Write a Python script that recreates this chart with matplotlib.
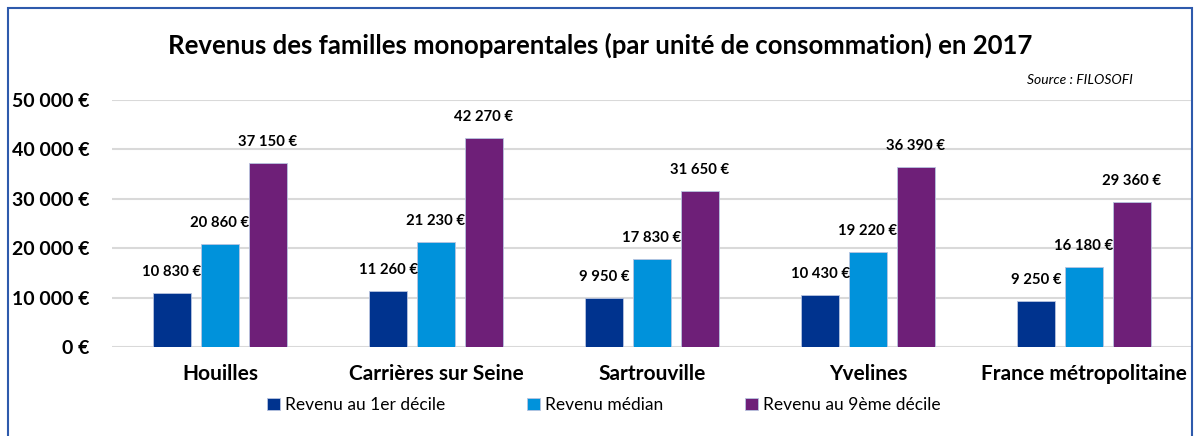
import matplotlib.pyplot as plt
from matplotlib.patches import Rectangle
import numpy as np

plt.rcParams['font.family'] = ['Lato', 'DejaVu Sans']

# Data
categories = ['Houilles', 'Carrières sur Seine', 'Sartrouville', 'Yvelines',
              'France métropolitaine']
series_names = ['Revenu au 1er décile', 'Revenu médian', 'Revenu au 9ème décile']
decile1 = [10830, 11260, 9950, 10430, 9250]
median = [20860, 21230, 17830, 19220, 16180]
decile9 = [37150, 42270, 31650, 36390, 29360]
y_ticks = [0, 10000, 20000, 30000, 40000, 50000]

colors = ['#00338E', '#0092DB', '#6E1F78']


def fmt_euro(v):
    return f'{v:,.0f} €'.replace(',', ' ')


W, H = 1196, 436
fig = plt.figure(figsize=(W / 100, H / 100), dpi=100)

# axes placed in pixel coordinates
left, right, bottom, top = 112, 1192, 347, 100
ax = fig.add_axes([left / W, 1 - bottom / H, (right - left) / W, (bottom - top) / H])

x = np.arange(len(categories))
width = 0.176
offset = 0.222
for i, (vals, name) in enumerate(zip([decile1, median, decile9], series_names)):
    pos = x + (i - 1) * offset
    bars = ax.bar(pos, vals, width, color=colors[i], label=name,
                  edgecolor='#B8C4E0', linewidth=0.6, zorder=3)
    for b, v in zip(bars, vals):
        ax.annotate(fmt_euro(v), (b.get_x() + b.get_width() / 2, v),
                    xytext=(0, 21), textcoords='offset pixels',
                    ha='center', va='center', fontsize=10.7, fontweight='bold',
                    zorder=4)

ax.set_xlim(-0.5, len(categories) - 0.5)
ax.set_ylim(0, 50000)
ax.set_yticks(y_ticks)
ax.set_yticklabels([fmt_euro(v) for v in y_ticks], fontsize=14, fontweight='bold')
ax.set_xticks(x)
ax.set_xticklabels(categories, fontsize=15, fontweight='bold')
ax.tick_params(axis='both', length=0)
ax.tick_params(axis='y', pad=16)
ax.tick_params(axis='x', pad=12)
ax.yaxis.grid(True, color='#D9D9D9', linewidth=1.5, zorder=0)
for s in ax.spines.values():
    s.set_visible(False)

fig.text(600 / W, 1 - 45 / H,
         'Revenus des familles monoparentales (par unité de consommation) en 2017',
         ha='center', va='center', fontsize=18.5, fontweight='bold')
fig.text(1133 / W, 1 - 80 / H, 'Source : FILOSOFI', ha='right', va='center',
         fontsize=10, style='italic')

fig.legend(loc='center', bbox_to_anchor=(604 / W, 1 - 405 / H), ncol=3,
           frameon=False, fontsize=12.5, handlelength=0.75, handleheight=0.75,
           handletextpad=0.3, columnspacing=4.7)

# outer frame
fig.patches.append(Rectangle((8 / W, -0.05), (1192 - 8) / W, 1 - 8 / H + 0.05,
                             transform=fig.transFigure, fill=False,
                             edgecolor='#2E5AAC', linewidth=1.5))

fig.savefig('out.png', dpi=100, facecolor='white')
